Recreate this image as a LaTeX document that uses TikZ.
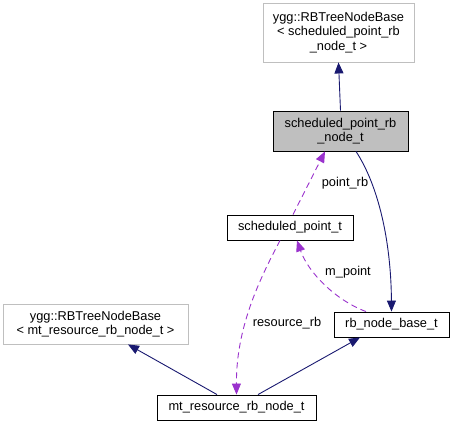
\documentclass[tikz,border=0pt]{standalone}
\usepackage{fontspec}
\setmainfont{Liberation Sans}
\usetikzlibrary{arrows.meta}
\definecolor{navy}{HTML}{191970}
\definecolor{purp}{HTML}{9A32CD}
\definecolor{lgray}{HTML}{BFBFBF}
\begin{document}
\begin{tikzpicture}[x=1pt,y=-1pt,
  every node/.style={font=\fontsize{12.8}{14.5}\selectfont, inner sep=0pt, align=center},
  cls/.style={draw=black, line width=0.9pt, rectangle},
  ext/.style={draw=lgray, line width=0.9pt, rectangle},
  inh/.style={draw=navy, line width=0.9pt, -{Triangle[length=11pt,width=9pt]}},
  use/.style={draw=purp, line width=0.9pt, dashed, dash pattern=on 6pt off 4pt, -{Triangle[length=11pt,width=9pt,fill=purp]}},
  lbl/.style={font=\fontsize{12.8}{14.5}\selectfont}]
\useasboundingbox (0,0) rectangle (454,427);
\node[ext, minimum width=151pt, minimum height=59pt] (yggt) at (338.5,32.5) {ygg::RBTreeNodeBase\\[0pt]{<} scheduled\_point\_rb\\\_node\_t {>}};
\node[cls, fill=lgray, minimum width=135pt, minimum height=40pt] (sprb) at (340.5,131) {scheduled\_point\_rb\\\_node\_t};
\node[cls, minimum width=126pt, minimum height=25pt] (spt) at (290,227.5) {scheduled\_point\_t};
\node[cls, minimum width=115pt, minimum height=25pt] (rbb) at (391.5,324.5) {rb\_node\_base\_t};
\node[ext, minimum width=185pt, minimum height=40pt] (yggl) at (95.5,324) {ygg::RBTreeNodeBase\\{<} mt\_resource\_rb\_node\_t {>}};
\node[cls, minimum width=159pt, minimum height=25pt] (mt) at (236.5,407.5) {mt\_resource\_rb\_node\_t};
% inheritance / collaboration edges
\draw[inh] (sprb.north) -- (yggt.south);
\draw[inh] ([xshift=15.5pt]sprb.south) .. controls (378,185) and (391,240) .. (rbb.north);
\draw[inh] ([xshift=-19.5pt]mt.north) -- ([xshift=32.5pt]yggl.south);
\draw[inh] ([xshift=21.5pt]mt.north) -- ([xshift=-31.5pt]rbb.south);
% usage edges
\draw[use] ([xshift=3pt]spt.north) -- ([xshift=-15.5pt]sprb.south);
\draw[use] ([xshift=-25.5pt]rbb.north) .. controls (335,300) and (308,272) .. ([xshift=7pt]spt.south);
\draw[use] ([xshift=-10pt]spt.south) .. controls (262,275) and (236,325) .. (mt.north);
% labels
\node[lbl] (l1) at (345,183) {point\_rb};
\node[lbl] (l2) at (348,272) {m\_point};
\node[lbl] (l3) at (287,323) {resource\_rb};
\end{tikzpicture}
\end{document}
